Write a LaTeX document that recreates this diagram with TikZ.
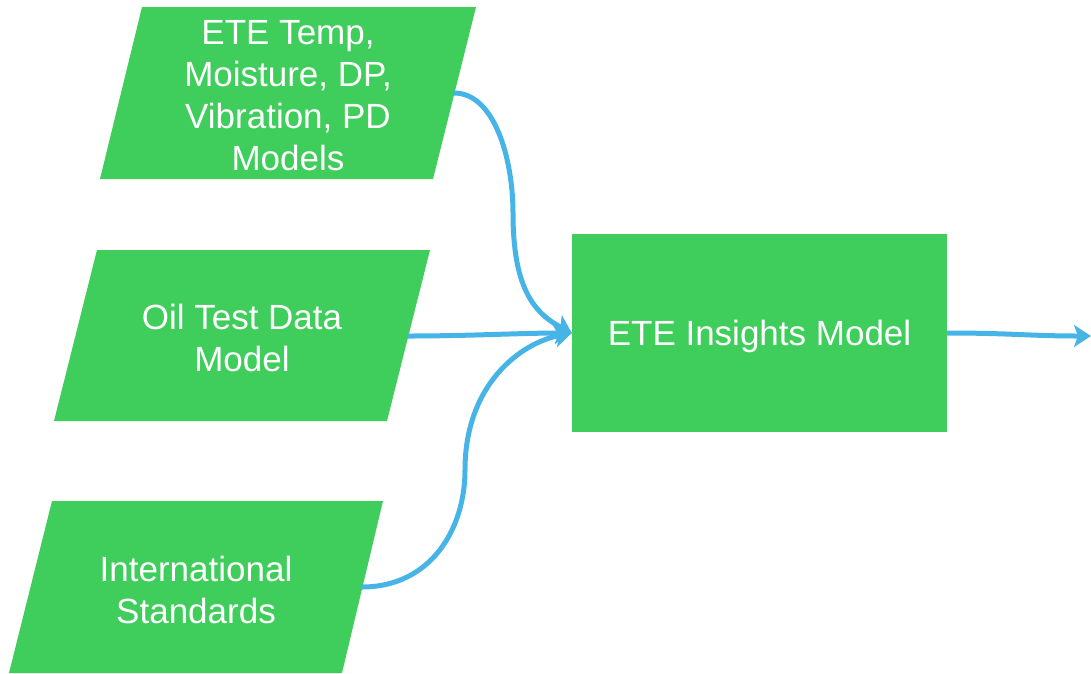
\documentclass[tikz,border=0pt]{standalone}
\usepackage{fontspec}
\setmainfont{Liberation Sans}
\usetikzlibrary{arrows.meta}
\definecolor{grn}{RGB}{63,205,91}
\definecolor{blu}{RGB}{70,180,230}
\tikzset{
  para/.style={fill=grn, draw=none},
  lbl/.style={text=white, align=center, inner sep=0pt, font=\fontsize{35}{42}\selectfont},
  boxnode/.style={fill=grn, draw=none, minimum width=375pt, minimum height=198pt, inner sep=0pt, text depth=0pt, text=white, font=\fontsize{35}{42}\selectfont},
  flow/.style={draw=blu, line width=5pt, -{Stealth[length=17pt,width=22pt,inset=4pt]}}
}
\begin{document}
\begin{tikzpicture}[x=1pt,y=-1pt]
\useasboundingbox (0,0) rectangle (1091,673);
% parallelograms
\fill[para] (142,7) -- (476,7) -- (433,179) -- (100,179) -- cycle;
\fill[para] (97,250) -- (430,250) -- (387,421) -- (54,421) -- cycle;
\fill[para] (52,501) -- (383,501) -- (342,673) -- (9,673) -- cycle;
\node[lbl] (t1) at (288,96) {ETE Temp,\\Moisture, DP,\\Vibration, PD\\Models};
\node[lbl] (t2) at (242,338) {Oil Test Data\\Model};
\node[lbl] (t3) at (196,590) {International\\Standards};
\node[boxnode] (box) at (759.5,333) {ETE Insights Model};
\coordinate (p1e) at (454,93);
\coordinate (p2e) at (408,336);
\coordinate (p3e) at (362,587);
\coordinate (out) at (1091,336);
% connectors
\draw[flow] (p1e) .. controls (495,93) and (513,160) .. (513,213)
  .. controls (513,285) and (532,312) .. (box.west);
\draw[flow] (p2e) .. controls (470,336) and (520,333) .. (box.west);
\draw[flow] (p3e) .. controls (430,587) and (465,530) .. (465,470)
  .. controls (465,385) and (520,343) .. (box.west);
\draw[flow] (box.east) .. controls (1010,333) and (1030,336) .. (out);
\end{tikzpicture}
\end{document}
